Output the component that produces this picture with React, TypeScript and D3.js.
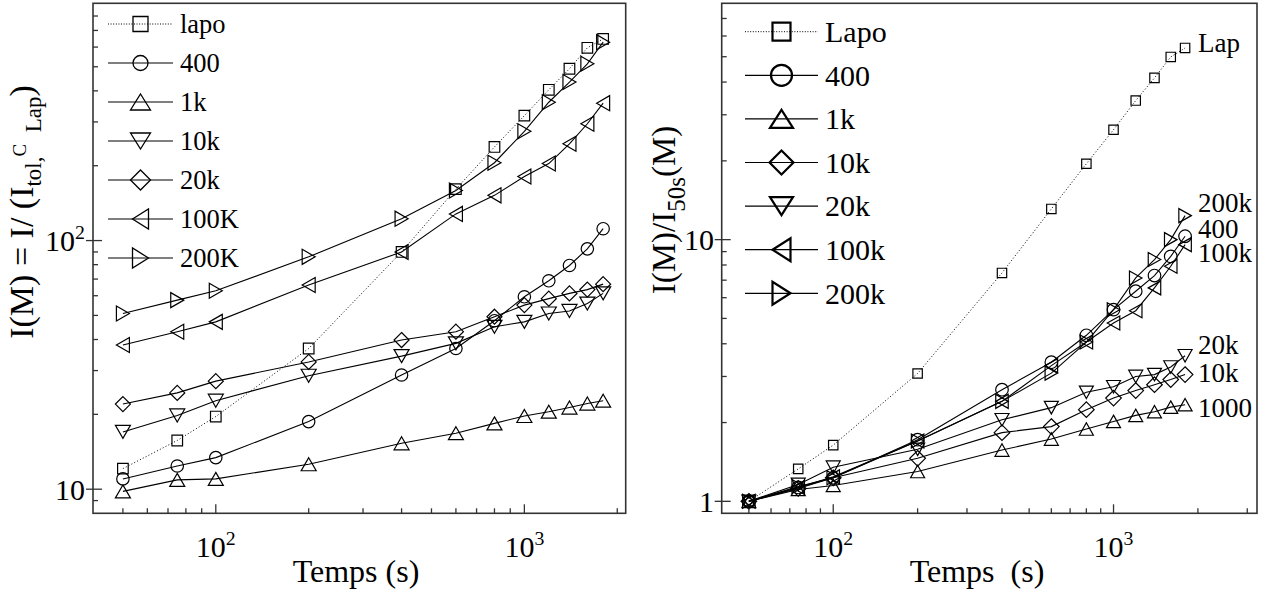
import React from 'react';
import * as d3 from 'd3';

const FONT = '"Liberation Serif","Times New Roman",Times,serif';

// ---------- data ----------
const TIMES = [50, 75, 100, 200, 400, 600, 800, 1000, 1200, 1400, 1600, 1800];

// Left panel: I(M)
const LEFT_NAMES = ['lapo', '400', '1k', '10k', '20k', '100K', '200K'];
const LEFT_LAPO = [12.1, 15.7, 19.6, 36.8, 90, 161, 238, 318, 404, 491, 596, 647];
const LEFT_400 = [11.0, 12.4, 13.4, 18.7, 28.8, 36.8, 47.6, 59.4, 68.9, 79.4, 92.6, 111.6];
const LEFT_1K = [9.8, 10.9, 11.0, 12.6, 15.3, 16.8, 18.4, 19.7, 20.5, 21.3, 22.1, 22.7];
const LEFT_10K = [17.0, 19.8, 22.7, 28.6, 34.3, 38.6, 45.0, 47.1, 50.9, 52.1, 55.8, 61.3];
const LEFT_20K = [22.0, 24.4, 27.2, 32.5, 39.8, 43.0, 49.4, 55.0, 58.4, 61.3, 63.5, 66.8];
const LEFT_100K = [38.0, 43.0, 47.1, 66.3, 90, 128, 152, 181, 204, 245, 295, 357];
const LEFT_200K = [50.9, 57.6, 62.8, 86, 122.5, 159, 205.6, 275, 360, 434, 514, 628];

// Right panel: I(M)/I50s(M)
const RIGHT_NAMES = ['Lapo', '400', '1k', '10k', '20k', '100k', '200k'];
const RIGHT_LAPO = [1, 1.33, 1.64, 3.08, 7.46, 13.1, 19.5, 26.3, 34.0, 41.5, 49.9, 54.0];
const RIGHT_400 = [1, 1.13, 1.23, 1.72, 2.67, 3.4, 4.31, 5.4, 6.35, 7.29, 8.63, 10.3];
const RIGHT_1K = [1, 1.11, 1.15, 1.30, 1.57, 1.73, 1.89, 2.02, 2.13, 2.20, 2.29, 2.34];
const RIGHT_10K = [1, 1.12, 1.23, 1.46, 1.83, 1.93, 2.24, 2.48, 2.65, 2.79, 2.92, 3.05];
const RIGHT_20K = [1, 1.16, 1.35, 1.58, 2.05, 2.28, 2.61, 2.74, 3.00, 3.05, 3.26, 3.60];
const RIGHT_100K = [1, 1.13, 1.24, 1.70, 2.41, 3.3, 4.06, 4.80, 5.35, 6.54, 7.91, 9.57];
const RIGHT_200K = [1, 1.14, 1.23, 1.70, 2.41, 3.09, 4.06, 5.40, 7.14, 8.39, 10.0, 12.35];
const RIGHT_END_LABELS = ['Lap', '200k', '400', '100k', '20k', '10k', '1000'];

// ticks
const X_TICKS_LEFT = [50, 60, 70, 80, 90, 100, 200, 300, 400, 500, 600, 700, 800, 900, 1000, 2000];
const X_TICKS_RIGHT = [50, 60, 70, 80, 90, 100, 200, 300, 400, 500, 600, 700, 800, 900, 1000, 2000, 3000];
const Y_TICKS_LEFT = [9, 10, 20, 30, 40, 50, 60, 70, 80, 90, 100, 200, 300, 400, 500, 600, 700, 800];
const Y_TICKS_RIGHT = [1, 2, 3, 4, 5, 6, 7, 8, 9, 10, 20, 30, 40, 50, 60, 70];
const X_MAJOR = [100, 1000];
const X_MAJOR_LABELS = [['10', '2'], ['10', '3']];
const Y_MAJOR_LEFT = [10, 100];
const Y_MAJOR_LEFT_LABELS = [['10', ''], ['10', '2']];
const Y_MAJOR_RIGHT = [1, 10];
const Y_MAJOR_RIGHT_LABELS = [['1', ''], ['10', '']];

// ---------- layout ----------
const LEFT_MARKERS = ['square', 'circle', 'up', 'down', 'diamond', 'left', 'right'];
const RIGHT_MARKERS = ['square', 'circle', 'up', 'diamond', 'down', 'left', 'right'];

type Sz = { sq: number; ci: number; di: number; tb: number; th: number };

function Marker({ type, x, y, s, sw }: { type: string; x: number; y: number; s: Sz; sw: number }) {
  if (type === 'circle') {
    return <circle cx={x} cy={y} r={s.ci} fill="none" stroke="#000" strokeWidth={sw} />;
  }
  const b = s.tb, h = s.th, r = type === 'square' ? s.sq : s.di;
  let d = '';
  switch (type) {
    case 'square': d = `M${-r},${-r}H${r}V${r}H${-r}Z`; break;
    case 'diamond': d = `M0,${-r}L${r},0L0,${r}L${-r},0Z`; break;
    case 'up': d = `M0,${-h / 2}L${b},${h / 2}L${-b},${h / 2}Z`; break;
    case 'down': d = `M0,${h / 2}L${b},${-h / 2}L${-b},${-h / 2}Z`; break;
    case 'left': d = `M${-h / 2},0L${h / 2},${-b}L${h / 2},${b}Z`; break;
    case 'right': d = `M${h / 2},0L${-h / 2},${-b}L${-h / 2},${b}Z`; break;
  }
  return <path transform={`translate(${x},${y})`} d={d} fill="none" stroke="#000" strokeWidth={sw} strokeLinejoin="miter" />;
}

function Pow({ x, y, base, exp, anchor, fs }: { x: number; y: number; base: string; exp: string; anchor: string; fs: number }) {
  return (
    <text x={x} y={y} textAnchor={anchor as any} fontSize={fs} fontFamily={FONT} fill="#000">
      <tspan>{base}</tspan>
      {exp ? <tspan fontSize={fs * 0.66} dy={-fs * 0.4}>{exp}</tspan> : null}
    </text>
  );
}

interface PanelProps {
  x0: number; x1: number; y0: number; y1: number;
  xDomain: [number, number]; yDomain: [number, number];
  xTicks: number[]; yTicks: number[];
  yMajor: number[]; yMajorLabels: string[][];
  series: number[][]; markers: string[];
  size: Sz;
  yLabelRight: number;
}

function Panel(p: PanelProps) {
  const x = d3.scaleLog().domain(p.xDomain).range([p.x0, p.x1]);
  const y = d3.scaleLog().domain(p.yDomain).range([p.y1, p.y0]);
  const line = d3.line<[number, number]>().x(d => x(d[0])).y(d => y(d[1]));
  return (
    <g>
      {p.series.map((vals, i) => {
        const pts: [number, number][] = TIMES.map((t, j) => [t, vals[j]]);
        return (
          <g key={i}>
            <path d={line(pts) || ''} fill="none" stroke="#000" strokeWidth={i === 0 ? 1 : 1.1}
              strokeDasharray={i === 0 ? '1 2.2' : undefined} />
            {pts.map((d, j) => (
              <Marker key={j} type={p.markers[i]} x={x(d[0])} y={y(d[1])} s={p.size} sw={1.2} />
            ))}
          </g>
        );
      })}
      <rect x={p.x0} y={p.y0} width={p.x1 - p.x0} height={p.y1 - p.y0} fill="none" stroke="#333" strokeWidth={1.6} />
      {p.xTicks.map((t, i) => {
        const major = X_MAJOR.includes(t);
        const xx = x(t);
        return <line key={'xt' + i} x1={xx} x2={xx} y1={p.y1} y2={p.y1 - (major ? 9 : 5)} stroke="#333" strokeWidth={1.3} />;
      })}
      {X_MAJOR.map((t, i) => (
        <Pow key={'xl' + i} x={x(t)} y={557} base={X_MAJOR_LABELS[i][0]} exp={X_MAJOR_LABELS[i][1]} anchor="middle" fs={30} />
      ))}
      {p.yTicks.map((t, i) => {
        const major = p.yMajor.includes(t);
        const yy = y(t);
        return <line key={'yt' + i} x1={major ? p.x0 - 7 : p.x0} x2={p.x0 + (major ? 9 : 5)} y1={yy} y2={yy} stroke="#333" strokeWidth={1.3} />;
      })}
      {p.yMajor.map((t, i) => (
        <Pow key={'yl' + i} x={p.yLabelRight} y={y(t) + 10.5} base={p.yMajorLabels[i][0]} exp={p.yMajorLabels[i][1]} anchor="end" fs={30} />
      ))}
    </g>
  );
}

function Legend({ names, markers, rows, lx0, lx1, tx, fs, size, sw }: any) {
  return (
    <g>
      {names.map((n: string, i: number) => {
        const yy = rows[0] + i * rows[1];
        const mx = (lx0 + lx1) / 2;
        return (
          <g key={i}>
            <line x1={lx0} x2={lx1} y1={yy} y2={yy} stroke="#000" strokeWidth={i === 0 ? 1 : 1.2}
              strokeDasharray={i === 0 ? '1 1.6' : undefined} />
            <Marker type={markers[i]} x={mx} y={yy} s={size} sw={sw} />
            <text x={tx} y={yy + fs * 0.34} fontSize={fs} fontFamily={FONT} fill="#000">{n}</text>
          </g>
        );
      })}
    </g>
  );
}

export default function App() {
  const leftSeries = [LEFT_LAPO, LEFT_400, LEFT_1K, LEFT_10K, LEFT_20K, LEFT_100K, LEFT_200K];
  const rightSeries = [RIGHT_LAPO, RIGHT_400, RIGHT_1K, RIGHT_10K, RIGHT_20K, RIGHT_100K, RIGHT_200K];
  const endLabelY = [52, 211.5, 238, 261.5, 354, 381.5, 416.5];
  return (
    <svg width={1274} height={592} style={{ position: 'absolute', left: 0, top: 0, background: '#fff' }}
      fontFamily={FONT}>
      <rect x={0} y={0} width={1274} height={592} fill="#fff" />
      <Panel x0={93} x1={625.7} y0={3.3} y1={513.3} xDomain={[40, 2130]} yDomain={[8, 900]}
        xTicks={X_TICKS_LEFT} yTicks={Y_TICKS_LEFT} yMajor={Y_MAJOR_LEFT} yMajorLabels={Y_MAJOR_LEFT_LABELS}
        series={leftSeries} markers={LEFT_MARKERS} size={{ sq: 5.3, ci: 6.2, di: 7.5, tb: 7.5, th: 13 }}
        yLabelRight={85} />
      <Panel x0={721.7} x1={1257} y0={3.3} y1={513.3} xDomain={[40, 3250]} yDomain={[0.9, 80]}
        xTicks={X_TICKS_RIGHT} yTicks={Y_TICKS_RIGHT} yMajor={Y_MAJOR_RIGHT} yMajorLabels={Y_MAJOR_RIGHT_LABELS}
        series={rightSeries} markers={RIGHT_MARKERS} size={{ sq: 4.7, ci: 6.3, di: 7.8, tb: 7, th: 12.5 }}
        yLabelRight={714} />
      <Legend names={LEFT_NAMES} markers={LEFT_MARKERS} rows={[24, 39]} lx0={108} lx1={173} tx={180} fs={26.5}
        size={{ sq: 7.5, ci: 7.5, di: 10, tb: 10, th: 16 }} sw={1.3} />
      <Legend names={RIGHT_NAMES} markers={RIGHT_MARKERS} rows={[31.7, 43.6]} lx0={745} lx1={818} tx={825} fs={30}
        size={{ sq: 9, ci: 10.5, di: 12, tb: 11.5, th: 18 }} sw={2.2} />
      {RIGHT_END_LABELS.map((t, i) => (
        <text key={i} x={1198} y={endLabelY[i]} fontSize={27} fontFamily={FONT} fill="#000">{t}</text>
      ))}
      <text x={356} y={582} textAnchor="middle" fontSize={32} fontFamily={FONT} fill="#000">Temps (s)</text>
      <text x={977} y={582} textAnchor="middle" fontSize={32} fontFamily={FONT} fill="#000" style={{ whiteSpace: 'pre' }}>Temps  (s)</text>
      <text transform="translate(33,212) rotate(-90)" textAnchor="middle" fontSize={34} fontFamily={FONT} fill="#000"
        style={{ whiteSpace: 'pre' }}>
        <tspan>I(M) = I/ (I</tspan>
        <tspan fontSize={23} dy={8}>tol,</tspan>
        <tspan fontSize={19} dy={-15}>C</tspan>
        <tspan fontSize={23} dy={15}>  Lap</tspan>
        <tspan fontSize={34} dy={-8}>)</tspan>
      </text>
      <text transform="translate(675,210) rotate(-90)" textAnchor="middle" fontSize={33} fontFamily={FONT} fill="#000">
        <tspan>I(M)/I</tspan>
        <tspan fontSize={25} dy={10}>50s</tspan>
        <tspan fontSize={33} dy={-10}>(M)</tspan>
      </text>
    </svg>
  );
}
